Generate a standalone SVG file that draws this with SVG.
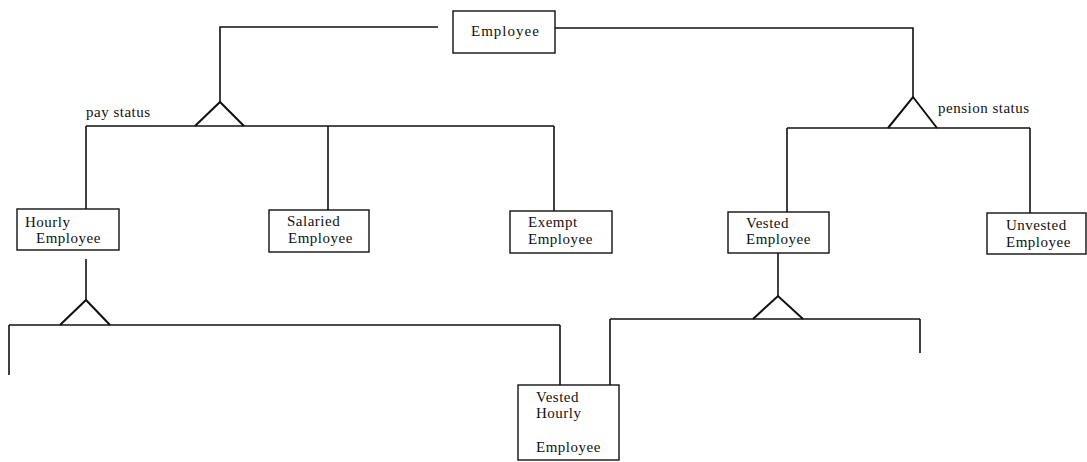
<svg xmlns="http://www.w3.org/2000/svg" width="1087" height="462" viewBox="0 0 1087 462">
  <style>
    .box { fill: #fff; stroke: #111; stroke-width: 1.4; }
    .lbl { font-family: "Liberation Serif", "Times New Roman", serif; font-size: 15px; fill: #111; letter-spacing: 0.5px; }
    .wire { fill: none; stroke: #111; stroke-width: 1.6; }
    .isa { fill: none; stroke: #111; stroke-width: 2; stroke-linejoin: miter; }
  </style>
  <rect width="1087" height="462" fill="#fff"/>

  <!-- generalisation links -->
  <g id="connectors">
    <!-- Employee -> pay status -->
    <polyline class="wire" points="438,27 220,27 220,102"/>
    <polyline class="isa" points="195,126 220,102 244,126"/>
    <line class="wire" x1="86" y1="126" x2="554" y2="126"/>
    <line class="wire" x1="86" y1="126" x2="86" y2="209"/>
    <line class="wire" x1="328" y1="126" x2="328" y2="210"/>
    <line class="wire" x1="554" y1="126" x2="554" y2="211"/>

    <!-- Employee -> pension status -->
    <polyline class="wire" points="555,28 913,28 913,97"/>
    <polyline class="isa" points="888,128 913,97 937,128"/>
    <line class="wire" x1="787" y1="128" x2="1030" y2="128"/>
    <line class="wire" x1="787" y1="128" x2="787" y2="212"/>
    <line class="wire" x1="1030" y1="128" x2="1030" y2="213"/>

    <!-- Hourly Employee subtypes -->
    <line class="wire" x1="86" y1="259" x2="86" y2="300"/>
    <polyline class="isa" points="60,325 86,300 110,325"/>
    <line class="wire" x1="9" y1="325" x2="560" y2="325"/>
    <line class="wire" x1="9" y1="325" x2="9" y2="375"/>
    <line class="wire" x1="560" y1="325" x2="560" y2="385"/>

    <!-- Vested Employee subtypes -->
    <line class="wire" x1="778" y1="253" x2="778" y2="296"/>
    <polyline class="isa" points="753,319 778,296 803,319"/>
    <line class="wire" x1="610" y1="319" x2="920" y2="319"/>
    <line class="wire" x1="610" y1="319" x2="610" y2="385"/>
    <line class="wire" x1="920" y1="319" x2="920" y2="353"/>

    <text class="lbl" x="86" y="117">pay status</text>
    <text class="lbl" x="938" y="113">pension status</text>
  </g>

  <g id="employee">
    <rect class="box" x="453" y="11" width="102" height="42"/>
    <text class="lbl" x="471" y="36" style="letter-spacing:1px">Employee</text>
  </g>

  <g id="hourly-employee">
    <rect class="box" x="17" y="209" width="102" height="41"/>
    <text class="lbl" x="25" y="227">Hourly</text>
    <text class="lbl" x="36" y="243">Employee</text>
  </g>

  <g id="salaried-employee">
    <rect class="box" x="269" y="210" width="100" height="42"/>
    <text class="lbl" x="287" y="226">Salaried</text>
    <text class="lbl" x="288" y="243">Employee</text>
  </g>

  <g id="exempt-employee">
    <rect class="box" x="510" y="211" width="102" height="42"/>
    <text class="lbl" x="528" y="227">Exempt</text>
    <text class="lbl" x="528" y="244">Employee</text>
  </g>

  <g id="vested-employee">
    <rect class="box" x="728" y="212" width="101" height="41"/>
    <text class="lbl" x="746" y="228">Vested</text>
    <text class="lbl" x="746" y="244">Employee</text>
  </g>

  <g id="unvested-employee">
    <rect class="box" x="987" y="213" width="99" height="41"/>
    <text class="lbl" x="1006" y="230">Unvested</text>
    <text class="lbl" x="1006" y="247">Employee</text>
  </g>

  <g id="vested-hourly-employee">
    <rect class="box" x="518" y="385" width="101" height="75"/>
    <text class="lbl" x="536" y="402">Vested</text>
    <text class="lbl" x="536" y="418">Hourly</text>
    <text class="lbl" x="536" y="452">Employee</text>
  </g>
</svg>
